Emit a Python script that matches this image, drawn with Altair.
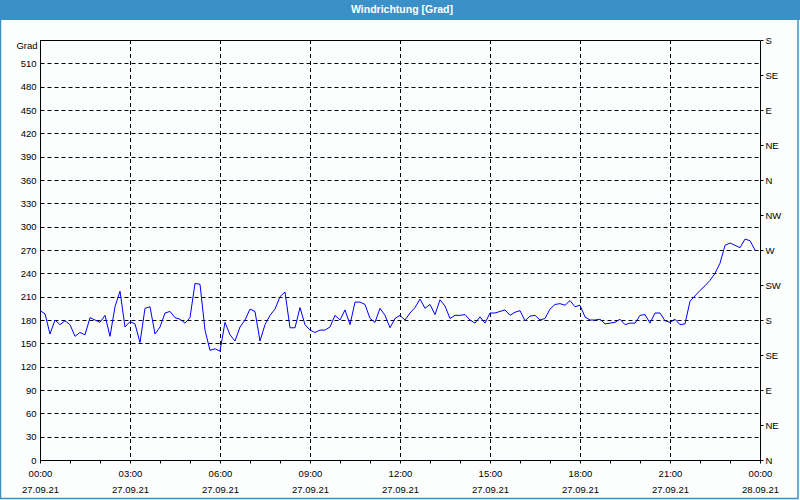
import altair as alt
import pandas as pd

# wind direction in degrees, one reading every 10 minutes from 27.09.21 00:00
direction = [
    192, 188, 162, 180, 174, 179, 174, 159, 164, 161, 183, 180,
    177, 186, 159, 197, 217, 171, 178, 175, 151, 195, 197, 162,
    171, 189, 191, 183, 181, 176, 183, 227, 226, 167, 141, 143,
    140, 177, 161, 153, 171, 180, 194, 191, 153, 174, 186, 194,
    210, 216, 170, 170, 196, 174, 167, 164, 167, 167, 171, 186,
    180, 193, 174, 203, 203, 200, 182, 177, 195, 186, 170, 182,
    186, 180, 189, 196, 207, 195, 200, 187, 206, 198, 182, 186,
    186, 187, 180, 176, 184, 176, 189, 189, 191, 193, 186, 190,
    192, 179, 185, 186, 180, 182, 194, 200, 201, 199, 205, 197,
    199, 184, 180, 180, 181, 175, 176, 177, 181, 174, 176, 176,
    186, 187, 176, 189, 189, 179, 177, 181, 174, 175, 204, 211,
    218, 224, 231, 240, 253, 276, 279, 276, 273, 284, 282, 270,
]
step_minutes = 10
minutes = [i * step_minutes for i in range(len(direction))]

time_labels = ["00:00", "03:00", "06:00", "09:00", "12:00", "15:00", "18:00", "21:00", "00:00"]
date_labels = ["27.09.21", "27.09.21", "27.09.21", "27.09.21", "27.09.21",
               "27.09.21", "27.09.21", "27.09.21", "28.09.21"]
compass_labels = ["N", "NE", "E", "SE", "S", "SW", "W", "NW", "N", "NE", "E", "SE", "S"]
grad_ticks = [0, 30, 60, 90, 120, 150, 180, 210, 240, 270, 300, 330, 360, 390, 420, 450, 480, 510]
compass_ticks = [0, 45, 90, 135, 180, 225, 270, 315, 360, 405, 450, 495, 540]
hour_ticks = [h * 60 for h in range(25)]
vgrid = [180, 360, 540, 720, 900, 1080, 1260]

df = pd.DataFrame({"m": minutes, "deg": direction})
one = pd.DataFrame({"k": [0]})

W, H = 720, 420
BLUE = "#3c90c8"
FONT = "Liberation Sans"
FS = 9.5

xscale = alt.Scale(domain=[0, 1440], nice=False, zero=False)
yscale = alt.Scale(domain=[0, 540], nice=False)

label_pairs = "[" + ",".join(f"['{t}','{d}']" for t, d in zip(time_labels, date_labels)) + "]"
x_label_expr = f"datum.value % 180 == 0 ? {label_pairs}[datum.value / 180] : ''"
compass_expr = "[" + ",".join(f"'{c}'" for c in compass_labels) + "][datum.value / 45]"

x_axis = alt.Axis(
    values=hour_ticks, labelExpr=x_label_expr, grid=False, ticks=True,
    tickSize=3, tickColor="black", domainColor="black", labelColor="black",
    labelFont=FONT, labelFontSize=FS, labelPadding=5, labelLineHeight=16,
    labelOverlap=False, labelFlush=False, labelBaseline="top", title=None)

frame = alt.Chart(one).mark_rect(fillOpacity=0, stroke=BLUE, strokeWidth=1.5).encode(
    x=alt.value(-39.5), x2=alt.value(758), y=alt.value(-40), y2=alt.value(458.5)
)
titlebar = alt.Chart(one).mark_rect(color=BLUE).encode(
    x=alt.value(-40), x2=alt.value(760), y=alt.value(-40), y2=alt.value(-20)
)
titletext = alt.Chart(one).mark_text(
    text="Windrichtung [Grad]", color="white", font=FONT, fontSize=10.5,
    fontWeight="bold", align="center", baseline="middle"
).encode(x=alt.value(362), y=alt.value(-30))

top_line = alt.Chart(one).mark_rule(color="black", strokeWidth=1).encode(
    x=alt.value(0), x2=alt.value(W), y=alt.value(0.5)
)

vrules = alt.Chart(pd.DataFrame({"m": vgrid})).mark_rule(
    color="black", strokeDash=[4, 3], strokeWidth=1, xOffset=0.5
).encode(
    x=alt.X("m:Q", scale=xscale, axis=x_axis), y=alt.value(0), y2=alt.value(H)
)

line_left = alt.Chart(df).mark_line(color="#0000ff", strokeWidth=1).encode(
    x=alt.X("m:Q", scale=xscale, axis=x_axis),
    y=alt.Y("deg:Q", scale=yscale, axis=alt.Axis(
        values=grad_ticks, grid=True, gridDash=[4, 3], gridColor="black",
        gridOpacity=1, ticks=False, domainColor="black", labelColor="black",
        labelFont=FONT, labelFontSize=FS, labelPadding=4, labelOverlap=False,
        labelFlush=False,
        title="Grad", titleAngle=0, titleX=-3, titleY=5, titleAlign="right",
        titleBaseline="middle", titleFont=FONT, titleFontSize=FS,
        titleFontWeight="normal", titleColor="black")),
)

line_right = alt.Chart(df).mark_line(strokeOpacity=0).encode(
    x=alt.X("m:Q", scale=xscale, axis=x_axis),
    y=alt.Y("deg:Q", scale=yscale, axis=alt.Axis(
        orient="right", values=compass_ticks, labelExpr=compass_expr, grid=False,
        ticks=True, tickSize=3, tickColor="black", domainColor="black",
        labelColor="black", labelFont=FONT, labelFontSize=FS, labelPadding=2,
        labelOverlap=False, labelFlush=False, title=None)),
)

chart = alt.layer(
    frame, titlebar, titletext, vrules, line_left, line_right, top_line
).resolve_scale(
    y="independent"
).properties(
    width=W, height=H,
    autosize=alt.AutoSizeParams(type="none"),
    padding={"left": 40, "top": 40, "right": 40, "bottom": 40},
).configure_view(stroke="transparent").configure(background="#fbfefc")

chart.save("out.html", embed_options={"renderer": "svg", "actions": False})
